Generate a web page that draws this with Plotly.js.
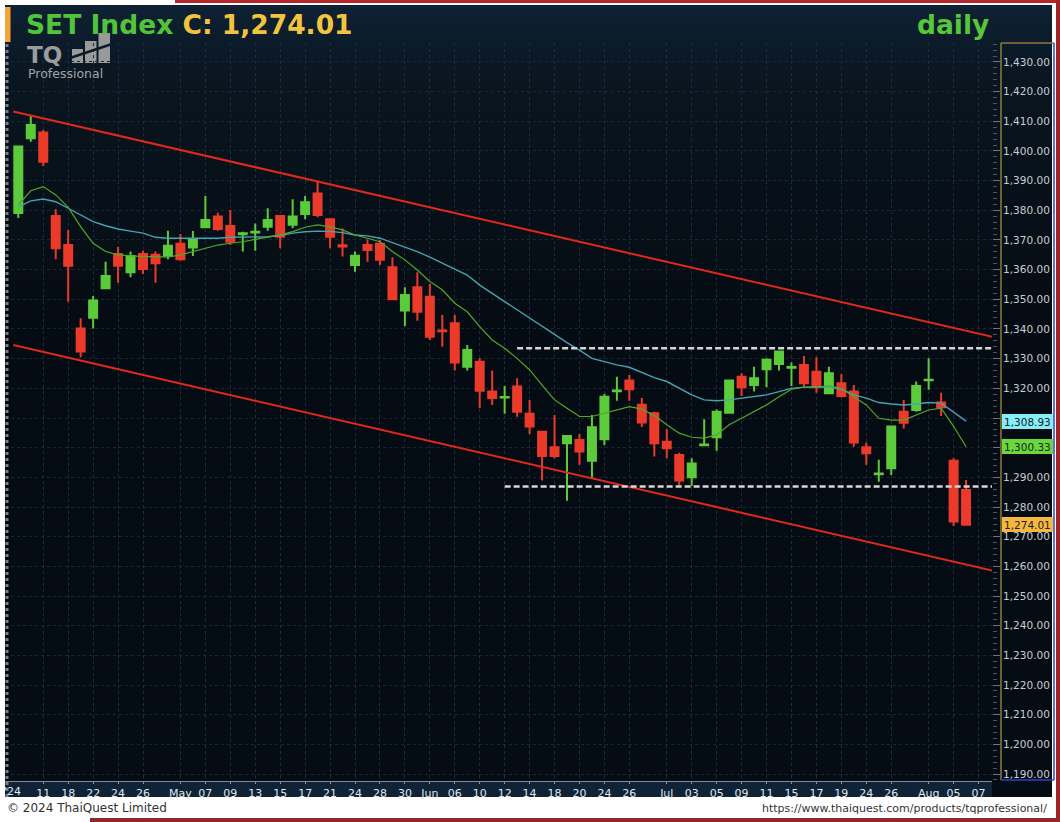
<!DOCTYPE html>
<html><head><meta charset="utf-8">
<script src="https://cdn.plot.ly/plotly-3.0.1.min.js"></script>
<style>
html,body{margin:0;padding:0;background:#fff;width:1060px;height:822px;overflow:hidden;}
#bg{position:absolute;left:5px;top:5px;width:1047px;height:792px;background:linear-gradient(to bottom,#0e2133 0%,#09151f 10%,#050b12 40%,#050c14 100%);}
#redTop{position:absolute;left:175px;top:0;width:885px;height:3px;background:#b5262b;}
#redRight{position:absolute;left:1056px;top:0;width:4px;height:822px;background:#9e2428;}
#redBottom{position:absolute;left:90px;top:818px;width:970px;height:4px;background:#8f2a2a;}
#chart{position:absolute;left:0;top:0;width:1060px;height:822px;}
</style></head>
<body>
<div id="bg"></div><div id="redTop"></div><div id="redRight"></div><div id="redBottom"></div>
<div id="chart"></div>
<script>
// ---------- data ----------
const dates = ['Apr 09','Apr 10','Apr 11','Apr 17','Apr 18','Apr 19','Apr 22','Apr 23','Apr 24','Apr 25','Apr 26','Apr 29','Apr 30',
'May 02','May 03','May 07','May 08','May 09','May 10','May 13','May 14','May 15','May 16','May 17','May 20','May 21','May 23','May 24','May 27','May 28','May 29','May 30','May 31',
'Jun 04','Jun 05','Jun 06','Jun 07','Jun 10','Jun 11','Jun 12','Jun 13','Jun 14','Jun 17','Jun 18','Jun 19','Jun 20','Jun 21','Jun 24','Jun 25','Jun 26','Jun 27','Jun 28',
'Jul 01','Jul 02','Jul 03','Jul 04','Jul 05','Jul 08','Jul 09','Jul 10','Jul 11','Jul 12','Jul 15','Jul 16','Jul 17','Jul 18','Jul 19','Jul 23','Jul 24','Jul 25','Jul 26','Jul 30','Jul 31',
'Aug 01','Aug 02','Aug 05','Aug 06','Aug 07'];

const open = [1379.1,1404.3,1406.2,1378.1,1368.3,1340.2,1343.8,1353.7,1365.3,1359.1,
1365.3,1365.0,1364.7,1368.7,1367.5,1374.3,1377.9,1374.7,1371.9,1372.5,
1374.5,1378.1,1375.1,1378.8,1385.7,1377.0,1368.2,1361.6,1368.3,1368.7,
1360.8,1346.2,1354.1,1350.9,1339.5,1341.9,1327.3,1329.0,1318.9,1316.9,
1320.6,1311.4,1305.4,1300.1,1301.5,1302.6,1295.6,1302.8,1319.0,1322.6,
1314.5,1311.6,1302.0,1297.5,1290.0,1300.8,1303.5,1311.8,1323.9,1321.1,
1326.4,1328.2,1326.9,1327.9,1325.6,1318.3,1321.7,1318.9,1300.1,1291.0,
1293.1,1312.1,1312.7,1322.7,1315.2,1295.6,1285.7];
const high = [1401.5,1412.1,1407.1,1380.4,1373.4,1343.6,1351.1,1362.7,1367.7,1366.1,
1366.4,1366.1,1373.1,1372.0,1373.0,1384.8,1379.2,1380.1,1372.8,1375.6,
1380.7,1378.4,1383.7,1384.8,1389.7,1377.3,1373.9,1366.1,1370.2,1370.0,
1364.2,1354.1,1359.1,1355.2,1344.7,1344.7,1334.6,1330.1,1326.0,1320.8,
1323.4,1316.1,1305.4,1311.0,1304.3,1304.6,1311.0,1318.1,1323.9,1324.5,
1316.7,1312.1,1306.2,1298.3,1296.4,1309.6,1312.9,1322.9,1325.1,1327.3,
1330.1,1332.7,1328.7,1330.9,1330.5,1327.3,1324.8,1321.1,1301.7,1295.9,
1307.1,1316.1,1322.3,1330.1,1318.5,1296.4,1289.1];
const low = [1377.4,1403.1,1394.9,1363.5,1349.2,1330.5,1340.2,1353.5,1355.6,1357.4,
1358.5,1355.6,1363.5,1363.0,1364.6,1374.0,1373.1,1368.3,1366.1,1366.4,
1373.1,1367.2,1374.0,1377.0,1377.7,1367.2,1364.4,1359.3,1362.7,1361.6,
1350.0,1341.0,1342.8,1336.3,1334.0,1326.0,1326.0,1313.3,1314.4,1311.4,
1310.4,1304.6,1288.9,1296.4,1282.1,1294.2,1289.7,1300.9,1315.8,1315.8,
1307.0,1297.0,1296.4,1287.4,1287.1,1300.5,1299.0,1311.4,1317.4,1318.9,
1320.4,1326.0,1320.8,1320.8,1318.5,1318.0,1317.0,1300.3,1294.2,1288.5,
1290.8,1306.5,1312.1,1319.5,1310.7,1273.6,1273.9];
const close = [1401.5,1408.8,1396.4,1367.2,1361.3,1332.4,1349.6,1357.9,1361.3,1364.6,
1360.2,1362.2,1368.1,1363.5,1370.0,1376.7,1373.7,1369.4,1372.3,1372.8,
1376.7,1371.1,1377.9,1382.7,1378.4,1371.1,1367.8,1364.7,1366.6,1363.3,
1350.0,1351.5,1345.8,1337.4,1339.2,1328.7,1332.9,1319.2,1316.7,1317.1,
1312.1,1307.1,1297.2,1297.2,1303.9,1298.7,1306.9,1317.2,1319.3,1319.7,
1308.5,1301.5,1299.8,1288.9,1294.7,1301.1,1312.1,1322.6,1320.4,1323.4,
1329.6,1332.4,1327.2,1321.7,1320.4,1325.1,1317.4,1301.7,1298.1,1291.3,
1307.1,1308.4,1320.8,1322.9,1313.6,1275.1,1274.01];
const maShort = [1381.8,1386.6,1388.0,1385.2,1381.0,1374.5,1368.9,1366.1,1365.0,1364.6,
1364.4,1364.4,1364.2,1365.0,1366.1,1367.4,1368.3,1368.9,1369.4,1370.2,
1370.9,1371.7,1372.8,1374.3,1375.1,1374.4,1373.4,1371.7,1370.6,1369.4,
1366.1,1363.3,1359.9,1356.0,1353.2,1348.7,1345.8,1340.8,1336.3,1333.5,
1330.1,1326.2,1321.1,1316.1,1313.3,1310.5,1310.5,1311.6,1312.9,1313.8,
1313.0,1310.8,1307.7,1304.9,1303.5,1303.2,1304.3,1307.7,1309.9,1312.1,
1314.4,1317.2,1319.7,1320.4,1320.4,1320.8,1320.0,1317.2,1314.4,1309.9,
1309.3,1309.3,1311.0,1312.7,1313.3,1307.2,1300.33];
const maLong = [1381.2,1383.2,1383.8,1382.9,1380.7,1378.4,1376.2,1374.8,1373.7,1373.0,
1372.3,1370.9,1370.6,1370.6,1370.6,1370.6,1370.6,1370.9,1371.0,1371.0,
1371.1,1371.5,1372.3,1372.8,1373.0,1372.9,1372.5,1371.7,1371.4,1370.6,
1369.1,1367.8,1366.1,1364.2,1362.2,1360.2,1358.2,1354.8,1352.0,1349.2,
1346.4,1343.6,1340.8,1338.0,1335.4,1332.9,1330.1,1329.0,1327.9,1327.1,
1325.3,1323.6,1322.3,1320.0,1317.8,1316.1,1315.8,1316.1,1316.7,1317.2,
1317.8,1318.9,1320.0,1320.4,1320.4,1320.4,1319.7,1317.8,1316.7,1315.2,
1314.7,1314.4,1314.7,1315.2,1315.0,1312.1,1308.93];

// channel trend lines (bar index, price) and horizontal levels
const channelIdx = [-0.4, 78.1];
const channelUpper = [1413.3, 1337.4];
const channelLower = [1334.6, 1258.6];
const resistanceIdx = [40, 78.1];
const resistance = [1333.5, 1333.5];
const supportIdx = [39, 78.1];
const support = [1286.9, 1286.9];

const tickDates = ['Apr 11','Apr 18','Apr 22','Apr 24','Apr 26','May 02','May 07','May 09','May 13','May 15','May 17','May 21','May 24','May 28','May 30',
'Jun 04','Jun 06','Jun 10','Jun 12','Jun 14','Jun 18','Jun 20','Jun 24','Jun 26','Jul 01','Jul 03','Jul 05','Jul 09','Jul 11','Jul 15','Jul 17','Jul 19','Jul 24','Jul 26',
'Aug 01','Aug 05','Aug 07'];
const tickText = ['11','18','22','24','26','May','07','09','13','15','17','21','24','28','30',
'Jun','06','10','12','14','18','20','24','26','Jul','03','05','09','11','15','17','19','24','26',
'Aug','05','07'];
const priceTicks = [1190,1200,1210,1220,1230,1240,1250,1260,1270,1280,1290,1300,1310,1320,1330,1340,1350,1360,1370,1380,1390,1400,1410,1420,1430];
// tick labels hidden behind the price tags in the reference
const hiddenTicks = [1300, 1310];

// ---------- drawing ----------
const idx = open.map((_, i) => i);
const PL = 5, PR = 992, PT = 43, PB = 780;
const fx = px => (px - PL) / (PR - PL);
const fy = py => (PB - py) / (PB - PT);
const F = 'DejaVu Sans, Verdana, sans-serif';
const fmt = v => v.toLocaleString('en-US',{minimumFractionDigits:2, maximumFractionDigits:2});

const traces = [
  {type:'candlestick', x: idx, open: open, high: high, low: low, close: close,
   increasing:{line:{color:'#5ccb3b', width:2}, fillcolor:'#5ccb3b'},
   decreasing:{line:{color:'#ec3a2a', width:2}, fillcolor:'#ec3a2a'},
   whiskerwidth:0, hoverinfo:'skip', showlegend:false},
  {type:'scatter', mode:'lines', x: idx, y: maLong, line:{color:'#46a3b3', width:1.4}, hoverinfo:'skip', showlegend:false},
  {type:'scatter', mode:'lines', x: idx, y: maShort, line:{color:'#4fa82a', width:1.2}, hoverinfo:'skip', showlegend:false},
  {type:'scatter', mode:'lines', x: channelIdx, y: channelUpper, line:{color:'#e2281c', width:2}, hoverinfo:'skip', showlegend:false},
  {type:'scatter', mode:'lines', x: channelIdx, y: channelLower, line:{color:'#e2281c', width:2}, hoverinfo:'skip', showlegend:false},
  {type:'scatter', mode:'lines', x: resistanceIdx, y: resistance, line:{color:'#d6d6d6', width:2.5, dash:'6px,3px'}, hoverinfo:'skip', showlegend:false},
  {type:'scatter', mode:'lines', x: supportIdx, y: support, line:{color:'#d6d6d6', width:2.5, dash:'6px,3px'}, hoverinfo:'skip', showlegend:false}
];

const rectP = (x0,y0,x1,y1,fill) => ({type:'rect', xref:'paper', yref:'paper', x0:fx(x0), x1:fx(x1), y0:fy(y1), y1:fy(y0), fillcolor:fill, line:{width:0}, layer:'below'});
const lineP = (x0,y0,x1,y1,color,w,dash) => ({type:'line', xref:'paper', yref:'paper', x0:fx(x0), x1:fx(x1), y0:fy(y0), y1:fy(y1), line:{color:color, width:w, dash:dash||'solid'}, layer:'above'});

const shapes = [
  rectP(5, 781, 992, 797, '#0f2236'),
  lineP(5, 781.5, 992, 781.5, '#7d8a98', 1),
  rectP(5, 7, 10.5, 42, '#f2a532'),
  lineP(7, 44, 7, 797, '#7b7f86', 3, 'dot'),
  // logo bars
  rectP(72, 49, 83, 63, '#9a9a9a'),
  rectP(85, 41, 96.5, 63, '#9a9a9a'),
  rectP(98.5, 33, 110, 63, '#9a9a9a'),
  lineP(70, 58, 112, 44, '#0c1b2a', 2.5),
  // right axis box
  lineP(1001, 43, 1001, 780, '#8e7c3e', 1.5),
  lineP(1001, 43, 1054, 43, '#8e7c3e', 1.5),
  lineP(1054, 43, 1054, 780, '#2b40c8', 1.5),
  lineP(1001, 780, 1054, 780, '#2b40c8', 1.5)
];

const tagAnn = (price, bg) => ({xref:'paper', yref:'y', x:fx(1001.5), xanchor:'left', y:price, yanchor:'middle',
  text:fmt(price), showarrow:false, bgcolor:bg, bordercolor:bg, borderpad:1, width:47, height:11, align:'left',
  font:{family:F, size:10.5, color:'#14222f'}});

const annotations = [
  {xref:'paper', yref:'paper', x:fx(24), xanchor:'left', y:fy(25), yanchor:'middle', showarrow:false,
   text:'SET Index <span style="color:#f2c33c">C: ' + fmt(close[close.length-1]) + '</span>', font:{family:F, size:26.5, weight:'bold', color:'#52c43c'}},
  {xref:'paper', yref:'paper', x:fx(991), xanchor:'right', y:fy(25), yanchor:'middle', showarrow:false,
   text:'daily', font:{family:F, size:26.5, weight:'bold', color:'#56c63a'}},
  {xref:'paper', yref:'paper', x:fx(25), xanchor:'left', y:fy(55), yanchor:'middle', showarrow:false,
   text:'TQ', font:{family:F, size:23, weight:'bold', color:'#9c9c9c'}},
  {xref:'paper', yref:'paper', x:fx(26), xanchor:'left', y:fy(73), yanchor:'middle', showarrow:false,
   text:'Professional', font:{family:F, size:12.5, color:'#a4a4a4'}},
  {xref:'x', yref:'paper', x:-0.45, xanchor:'center', y:fy(791), yanchor:'middle', showarrow:false,
   text:"'24", font:{family:F, size:11, color:'#dfe6ee'}},
  {xref:'paper', yref:'paper', x:fx(5), xanchor:'left', y:fy(808), yanchor:'middle', showarrow:false,
   text:'© 2024 ThaiQuest Limited', font:{family:F, size:12, color:'#333333'}},
  {xref:'paper', yref:'paper', x:fx(1049), xanchor:'right', y:fy(808), yanchor:'middle', showarrow:false,
   text:'https://www.thaiquest.com/products/tqprofessional/', font:{family:F, size:11, color:'#333333'}},
  tagAnn(maLong[maLong.length-1], '#86eef6'),
  tagAnn(maShort[maShort.length-1], '#6ad83a'),
  tagAnn(close[close.length-1], '#f6b73c')
];

const layout = {
  width:1060, height:822,
  margin:{l:PL, r:1060-PR, t:PT, b:822-PB, pad:0},
  paper_bgcolor:'rgba(0,0,0,0)', plot_bgcolor:'rgba(0,0,0,0)',
  font:{family:F, size:11, color:'#dfe6ee'},
  showlegend:false, boxgap:0.36, boxgroupgap:0, dragmode:false,
  xaxis:{type:'linear', range:[-1.067, 78.08], tickmode:'array',
    tickvals: tickDates.map(d => dates.indexOf(d)), ticktext: tickText,
    ticks:'outside', ticklen:3, tickcolor:'#8a97a5', tickfont:{family:F, size:11, color:'#dfe6ee'},
    showgrid:true, gridcolor:'#1d2d3f', griddash:'dot', gridwidth:1,
    zeroline:false, showline:false, rangeslider:{visible:false}, fixedrange:true},
  yaxis:{side:'right', range:[1187.98, 1436.4], tickmode:'array', tickvals: priceTicks,
    ticktext: priceTicks.map(v => hiddenTicks.includes(v) ? '' : fmt(v)),
    ticks:'outside', ticklen:7, tickcolor:'#6c7480', ticklabelstandoff:1,
    minor:{ticks:'outside', ticklen:4, dtick:2, tickcolor:'#4c5562', showgrid:false},
    tickfont:{family:F, size:10.5, color:'#c9cdd3'},
    showgrid:true, gridcolor:'#182636', griddash:'dot', gridwidth:1,
    zeroline:false, showline:false, fixedrange:true},
  shapes: shapes,
  annotations: annotations
};

Plotly.newPlot('chart', traces, layout, {staticPlot:true, displayModeBar:false});
</script>
</body></html>
